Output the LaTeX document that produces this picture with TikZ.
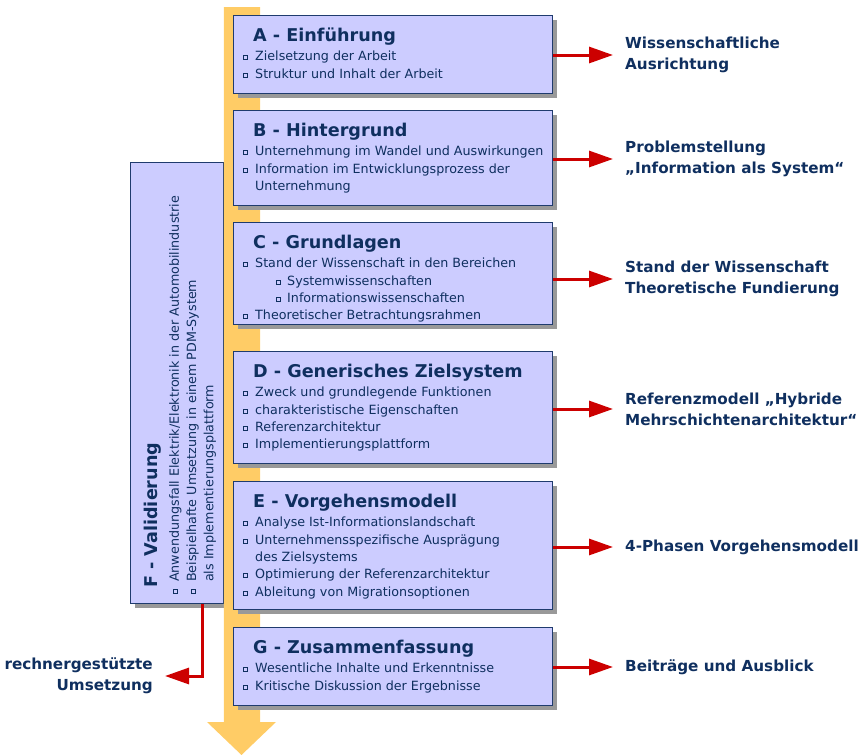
\documentclass[tikz,border=0pt]{standalone}
\usepackage{fontspec}
\setmainfont{DejaVu Sans}
\newfontfamily\lblfont{DejaVu Sans}
\usetikzlibrary{arrows.meta,shadows}
\definecolor{navy}{HTML}{0F2F5F}
\definecolor{boxline}{HTML}{1F3B6E}
\definecolor{boxfill}{HTML}{CCCCFF}
\definecolor{shade}{HTML}{999999}
\definecolor{barcol}{HTML}{FFCC66}
\definecolor{arrred}{HTML}{CC0000}
\newcommand{\bul}{{\setlength{\fboxsep}{0pt}\setlength{\fboxrule}{0.5pt}\raisebox{1.5pt}{\fbox{\rule{0pt}{3.5pt}\rule{3.5pt}{0pt}}}}}
\newcommand{\itm}[1]{\makebox[12pt][l]{\bul}#1}
\newcommand{\subitm}[1]{\hspace*{33pt}\makebox[11pt][l]{\bul}#1}
\newcommand{\cnt}{\hspace*{12pt}}
\begin{document}
\begin{tikzpicture}[x=1pt,y=-1pt]
\tikzset{
  box/.style={draw=boxline, line width=1.3pt, fill=boxfill, inner sep=0pt, anchor=north west,
    minimum width=319pt, general shadow={fill=shade, shadow xshift=4pt, shadow yshift=-4pt}},
  ttl/.style={anchor=base west, inner sep=0pt, text=navy, font=\bfseries\fontsize{17.6}{20}\selectfont},
  itms/.style={anchor=north west, inner sep=0pt, align=left, text=navy, font=\fontsize{12.7}{17.3}\selectfont},
  res/.style={anchor=west, inner sep=0pt, align=left, text=navy, font=\lblfont\bfseries\fontsize{15.2}{21}\selectfont},
  link/.style={draw=arrred, line width=3pt, -{Triangle[length=24pt,width=16pt]}, shorten >=12pt}
}
\useasboundingbox (0,0) rectangle (863,755);
\node[box, minimum width=93pt, minimum height=441pt] (F) at (130,162) {};
\fill[barcol] (223.8,7) -- (260,7) -- (260,722) -- (276,722) -- (241.5,755) -- (207,722) -- (223.8,722) -- cycle;
\node[ttl, rotate=90] (Ft) at (157,588) {F - Validierung};
\node[itms, rotate=90] (Fi) at (169,594) {\itm{Anwendungsfall Elektrik/Elektronik in der Automobilindustrie}\\
  \itm{Beispielhafte Umsetzung in einem PDM-System}\\
  \cnt als Implementierungsplattform};
\node[box, minimum height=78pt] (A) at (233,15) {};
\node[ttl] (At) at (253,41) {A - Einführung};
\node[itms] (Ai) at (243,51) {\itm{Zielsetzung der Arbeit}\\
  \itm{Struktur und Inhalt der Arbeit}};
\node[box, minimum height=95pt] (B) at (233,110) {};
\node[ttl] (Bt) at (253,136) {B - Hintergrund};
\node[itms] (Bi) at (243,146) {\itm{Unternehmung im Wandel und Auswirkungen}\\
  \itm{Information im Entwicklungsprozess der}\\
  \cnt Unternehmung};
\node[box, minimum height=102pt] (C) at (233,222) {};
\node[ttl] (Ct) at (253,248) {C - Grundlagen};
\node[itms] (Ci) at (243,258) {\itm{Stand der Wissenschaft in den Bereichen}\\
  \subitm{Systemwissenschaften}\\
  \subitm{Informationswissenschaften}\\
  \itm{Theoretischer Betrachtungsrahmen}};
\node[box, minimum height=112pt] (D) at (233,351) {};
\node[ttl] (Dt) at (253,377) {D - Generisches Zielsystem};
\node[itms] (Di) at (243,387) {\itm{Zweck und grundlegende Funktionen}\\
  \itm{charakteristische Eigenschaften}\\
  \itm{Referenzarchitektur}\\
  \itm{Implementierungsplattform}};
\node[box, minimum height=128pt] (E) at (233,481) {};
\node[ttl] (Et) at (253,507) {E - Vorgehensmodell};
\node[itms] (Ei) at (243,517) {\itm{Analyse Ist-Informationslandschaft}\\
  \itm{Unternehmensspezifische Ausprägung}\\
  \cnt des Zielsystems\\
  \itm{Optimierung der Referenzarchitektur}\\
  \itm{Ableitung von Migrationsoptionen}};
\node[box, minimum height=78pt] (G) at (233,627) {};
\node[ttl] (Gt) at (253,653) {G - Zusammenfassung};
\node[itms] (Gi) at (243,663) {\itm{Wesentliche Inhalte und Erkenntnisse}\\
  \itm{Kritische Diskussion der Ergebnisse}};
\node[res] (lA) at (625,55) {Wissenschaftliche\\Ausrichtung};
\node[res] (lB) at (625,159) {Problemstellung\\„Information als System“};
\node[res] (lC) at (625,279) {Stand der Wissenschaft\\Theoretische Fundierung};
\node[res] (lD) at (625,409) {Referenzmodell „Hybride\\Mehrschichtenarchitektur“};
\node[res] (lE) at (625,547) {4-Phasen Vorgehensmodell};
\node[res] (lG) at (625,667) {Beiträge und Ausblick};
\node[res, anchor=east, align=right] (lF) at (153,676) {rechnergestützte\\Umsetzung};
\coordinate (fk) at (202,676);
\foreach \b in {A,B,C,D,E,G}
  \draw[link] (l\b.west -| \b.east) -- (l\b.west);
\draw[link] (F.south -| fk) |- (lF.east);
\end{tikzpicture}
\end{document}
